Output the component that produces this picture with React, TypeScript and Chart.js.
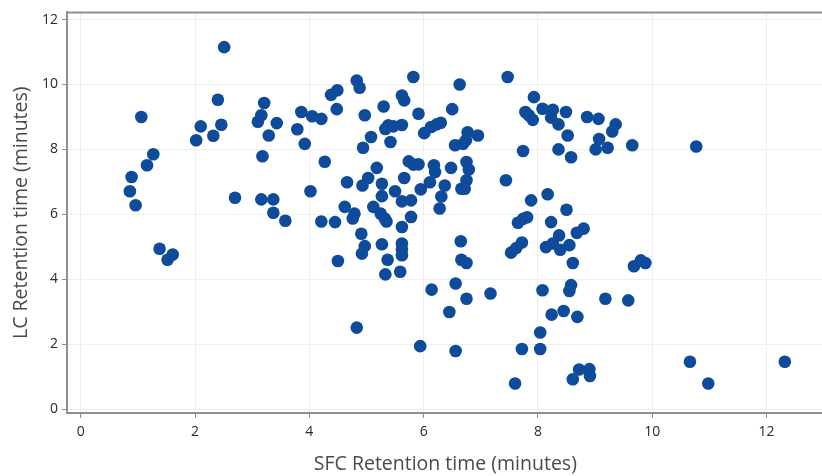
import React, { useEffect, useRef } from "react";
import { Chart, registerables } from "chart.js";

Chart.register(...registerables);

const sfcTimes: number[] = [
  1.06, 0.89, 0.86, 0.96, 1.16, 1.27, 1.38, 1.52, 1.61, 2.02,
  2.10, 2.32, 2.40, 2.46, 2.51, 2.70, 3.10, 3.16, 3.21, 3.18,
  3.29, 3.43, 3.16, 3.37, 3.37, 3.58, 3.79, 3.86, 3.92, 4.05,
  4.21, 4.48, 4.38, 4.49, 4.83, 4.88, 4.97, 5.30, 5.62, 5.66,
  5.82, 5.91, 5.08, 4.94, 5.42, 5.33, 5.38, 5.47, 5.62, 6.01,
  6.13, 6.23, 6.30, 6.63, 6.50, 6.77, 6.95, 6.55, 6.69, 6.74,
  7.47, 7.74, 7.78, 7.84, 7.91, 7.93, 8.08, 8.26, 8.23, 8.36,
  8.49, 8.52, 8.36, 8.58, 8.86, 9.06, 9.36, 9.30, 9.07, 9.01,
  9.22, 9.65, 10.77,
  4.27, 4.02, 4.66, 4.93, 5.03, 5.18, 5.27, 5.27, 5.50, 5.66,
  5.74, 5.82, 5.91, 5.62, 5.78, 5.95, 6.11, 6.18, 6.20, 6.48,
  6.75, 6.79, 6.75, 6.66, 6.72, 6.37, 6.31, 6.28, 7.44, 4.62,
  4.79, 4.76, 4.21, 4.45, 5.12, 5.25, 5.32, 5.35, 5.62, 5.78,
  7.88, 8.17, 8.50, 7.65, 7.74, 7.81, 8.23,
  4.91, 4.97, 4.92, 4.50, 5.27, 5.37, 5.33, 5.62, 5.62, 5.62,
  5.59, 6.65, 6.66, 6.75, 6.14, 6.56, 6.75, 7.17, 6.45, 4.83,
  5.94, 6.56, 7.60, 7.72, 8.04, 8.04, 8.08, 8.24, 7.53, 7.62,
  7.72, 8.14, 8.26, 8.37, 8.39, 8.55, 8.68, 8.80, 8.61, 9.68,
  9.80, 9.88, 8.55, 8.58, 9.18, 9.58, 8.45, 8.69, 8.61, 8.72,
  8.90, 8.91, 10.66, 10.98, 12.32,
];

const lcTimes: number[] = [
  9.00, 7.15, 6.71, 6.28, 7.51, 7.85, 4.94, 4.60, 4.76, 8.28,
  8.71, 8.42, 9.53, 8.76, 11.15, 6.51, 8.85, 9.05, 9.43, 7.79,
  8.43, 8.81, 6.46, 6.46, 6.05, 5.80, 8.62, 9.15, 8.17, 9.02,
  8.94, 9.24, 9.68, 9.82, 10.12, 9.90, 9.05, 9.32, 9.66, 9.51,
  10.23, 9.10, 8.38, 8.05, 8.23, 8.63, 8.74, 8.71, 8.75, 8.50,
  8.69, 8.77, 8.82, 10.00, 9.24, 8.53, 8.43, 8.13, 8.17, 8.28,
  10.23, 7.95, 9.15, 9.05, 8.91, 9.61, 9.25, 9.22, 8.98, 8.77,
  9.15, 8.43, 8.00, 7.76, 9.00, 8.94, 8.77, 8.55, 8.32, 8.00,
  8.05, 8.13, 8.09,
  7.62, 6.71, 6.99, 6.89, 7.12, 7.43, 6.94, 6.56, 6.71, 7.12,
  7.63, 7.53, 7.54, 6.40, 6.43, 6.77, 6.99, 7.51, 7.30, 7.43,
  7.61, 7.38, 7.05, 6.79, 6.79, 6.89, 6.55, 6.18, 7.05, 6.23,
  6.02, 5.87, 5.78, 5.76, 6.23, 6.02, 5.87, 5.78, 5.61, 5.92,
  6.43, 6.62, 6.14, 5.74, 5.86, 5.91, 5.76,
  5.40, 5.02, 4.79, 4.56, 5.08, 4.60, 4.15, 5.10, 4.92, 4.74,
  4.23, 5.17, 4.60, 4.50, 3.68, 3.87, 3.40, 3.56, 2.99, 2.51,
  1.94, 1.79, 0.79, 1.85, 1.85, 2.36, 3.66, 2.91, 4.82, 4.96,
  5.13, 4.99, 5.10, 5.35, 4.91, 5.05, 5.43, 5.56, 4.50, 4.40,
  4.58, 4.50, 3.64, 3.82, 3.40, 3.35, 3.02, 2.84, 0.92, 1.22,
  1.23, 1.02, 1.46, 0.79, 1.46,
];

const xTickValues: number[] = [0, 2, 4, 6, 8, 10, 12];
const yTickValues: number[] = [0, 2, 4, 6, 8, 10, 12];

const xTitle = "SFC Retention time (minutes)";
const yTitle = "LC Retention time (minutes)";

const topBorder = {
  id: "topBorder",
  afterDraw(chart: any) {
    const { ctx, chartArea } = chart;
    ctx.save();
    ctx.strokeStyle = "#8f8f8f";
    ctx.lineWidth = 2;
    ctx.beginPath();
    ctx.moveTo(chartArea.left, chartArea.top);
    ctx.lineTo(chartArea.right, chartArea.top);
    ctx.stroke();
    ctx.restore();
  },
};

export default function App() {
  const ref = useRef<HTMLCanvasElement | null>(null);
  useEffect(() => {
    if (!ref.current) return;
    const points = sfcTimes.map((x, i) => ({ x, y: lcTimes[i] }));
    const tickFont = { family: "'Open Sans', 'Noto Sans', sans-serif", size: 14, weight: "500" as any };
    const titleFont = { family: "'Open Sans', 'Noto Sans', sans-serif", size: 19.5 };
    const chart = new Chart(ref.current, {
      type: "scatter",
      data: {
        datasets: [
          {
            data: points,
            backgroundColor: "#0e4b9b",
            borderColor: "#0e4b9b",
            borderWidth: 0,
            pointRadius: 6.3,
            pointHoverRadius: 6.3,
          },
        ],
      },
      options: {
        animation: false,
        responsive: false,
        maintainAspectRatio: false,
        layout: { padding: { left: 0, top: 12, right: 0, bottom: 0 } },
        plugins: { legend: { display: false }, tooltip: { enabled: false } },
        scales: {
          x: {
            type: "linear",
            min: -0.24,
            max: 13.0,
            afterBuildTicks: (s: any) => {
              s.ticks = xTickValues.map((v) => ({ value: v }));
            },
            afterFit: (s: any) => {
              s.height = 63;
            },
            ticks: { color: "#2a2a2a", font: tickFont, padding: 6, maxRotation: 0 },
            grid: { color: "#eeeeee", tickColor: "#8f8f8f", tickLength: 5, lineWidth: 1 },
            border: { color: "#8f8f8f", width: 2 },
            title: {
              display: true,
              text: xTitle,
              color: "#4a4a4a",
              font: titleFont,
              padding: { top: 0, bottom: 0 },
            },
          },
          y: {
            type: "linear",
            min: -0.12,
            max: 12.22,
            afterBuildTicks: (s: any) => {
              s.ticks = yTickValues.map((v) => ({ value: v }));
            },
            afterFit: (s: any) => {
              s.width = 67;
            },
            ticks: { color: "#2a2a2a", font: tickFont, padding: 4 },
            grid: { color: "#eeeeee", tickColor: "#8f8f8f", tickLength: 5, lineWidth: 1 },
            border: { color: "#8f8f8f", width: 2 },
            title: {
              display: true,
              text: yTitle,
              color: "#4a4a4a",
              font: titleFont,
              padding: { top: 10, bottom: 0 },
            },
          },
        },
      },
      plugins: [topBorder],
    });
    return () => chart.destroy();
  }, []);
  return (
    <div
      style={{
        position: "fixed",
        left: 0,
        top: 0,
        width: 822,
        height: 476,
        overflow: "hidden",
        background: "#fff",
      }}
    >
      <canvas ref={ref} width={830} height={476} style={{ display: "block" }} />
    </div>
  );
}
